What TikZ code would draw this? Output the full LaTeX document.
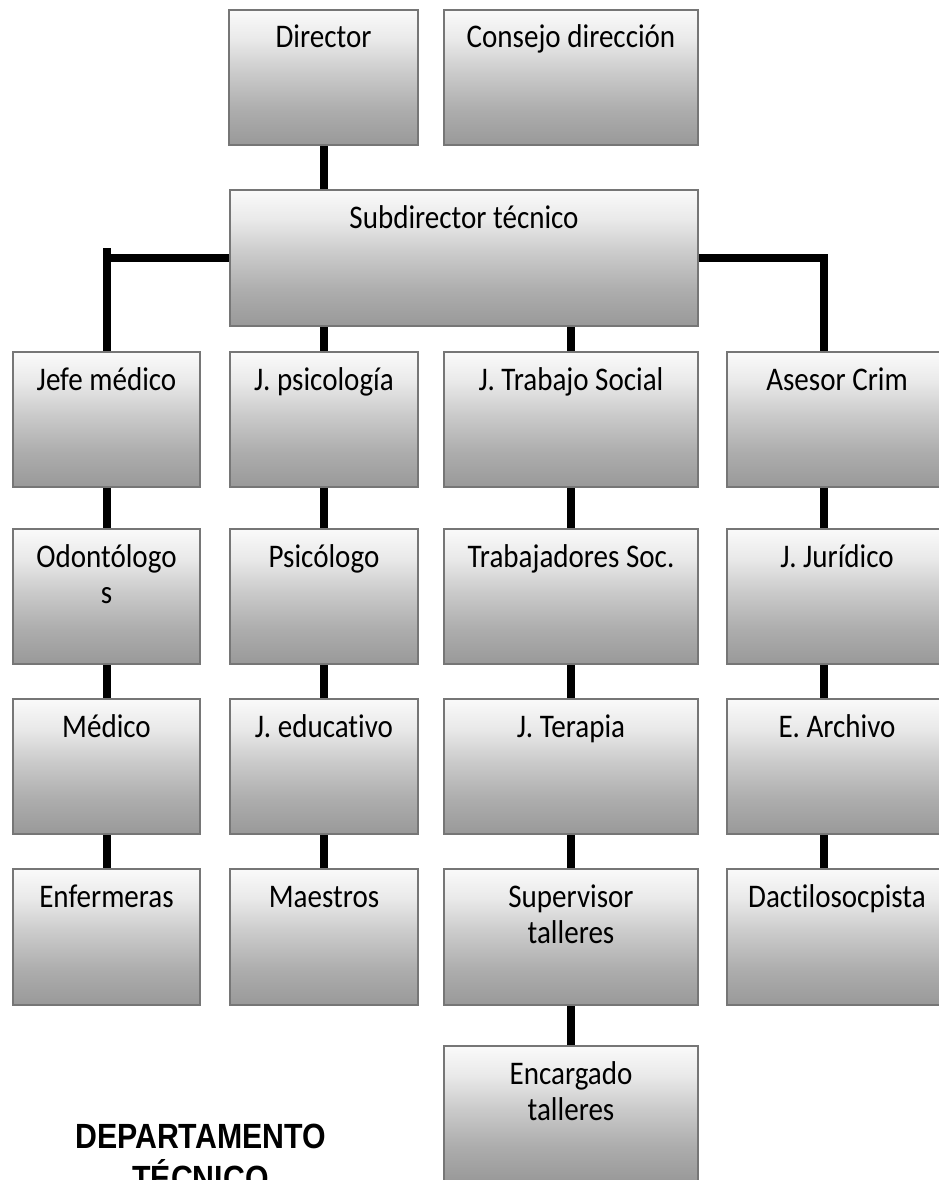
\documentclass[tikz,border=0pt]{standalone}
\usepackage{fontspec}
\setmainfont[FakeStretch=0.88, Ligatures={NoCommon}]{Carlito}
\newfontfamily\titlefont[FakeStretch=0.865]{Liberation Sans}
\usetikzlibrary{calc}

% box fill: light at the top, darker grey at the bottom
\definecolor{shA}{HTML}{999999}
\definecolor{shB}{HTML}{ADADAD}
\definecolor{shC}{HTML}{CBCBCB}
\definecolor{shD}{HTML}{E9E9E9}
\definecolor{shE}{HTML}{FAFAFA}
\definecolor{boxline}{HTML}{767676}
\pgfdeclareverticalshading{boxfade}{100bp}{color(0bp)=(shA); color(25bp)=(shA); color(38bp)=(shB); color(52bp)=(shC); color(64bp)=(shD); color(75bp)=(shE); color(100bp)=(shE)}

\tikzset{
  orgbox/.style={draw=boxline, line width=2pt, shading=boxfade, rectangle,
    inner sep=0pt, anchor=north west,
    font=\fontsize{33pt}{36pt}\selectfont},
  conn/.style={line width=8pt, draw=black, line cap=butt},
  titletext/.style={inner sep=0pt, anchor=base,
    font=\titlefont\bfseries\fontsize{35pt}{42pt}\selectfont}
}

% \orgnode{name}{left}{top}{width}{height}{text}
\newcommand\orgnode[6]{%
  \node[orgbox] (#1) at (#2,#3)
    {\parbox[t][#5pt][t]{#4pt}{\centering\rule{0pt}{38pt}#6}};}

\begin{document}
\begin{tikzpicture}[x=1pt, y=-1pt]
  \fill[white] (0,0) rectangle (938,1180);
  \useasboundingbox (0,0) rectangle (938,1180);

  % top level
  \orgnode{dir}{228}{9}{189}{135}{Director}
  \orgnode{cons}{443}{9}{254}{135}{Consejo dirección}
  \orgnode{sub}{229}{189}{468}{136}{Subdirector técnico}

  % column 1
  \orgnode{jm}{12}{351}{187}{135}{Jefe médico}
  \orgnode{odo}{12}{528}{187}{135}{Odontólogo\\s}
  \orgnode{med}{12}{698}{187}{135}{Médico}
  \orgnode{enf}{12}{868}{187}{136}{Enfermeras}

  % column 2
  \orgnode{jps}{229}{351}{188}{135}{J. psicología}
  \orgnode{psi}{229}{528}{188}{135}{Psicólogo}
  \orgnode{jed}{229}{698}{188}{135}{J. educativo}
  \orgnode{mae}{229}{868}{188}{136}{Maestros}

  % column 3
  \orgnode{jts}{443}{351}{254}{135}{J. Trabajo Social}
  \orgnode{tsoc}{443}{528}{254}{135}{Trabajadores Soc.}
  \orgnode{jter}{443}{698}{254}{135}{J. Terapia}
  \orgnode{sup}{443}{868}{254}{136}{Supervisor\\talleres}
  \orgnode{enc}{443}{1045}{254}{135}{Encargado\\talleres}

  % column 4
  \orgnode{ac}{726}{351}{220}{135}{Asesor Crim}
  \orgnode{jj}{726}{528}{220}{135}{J. Jurídico}
  \orgnode{ea}{726}{698}{220}{135}{E. Archivo}
  \orgnode{dac}{726}{868}{220}{136}{Dactilosocpista}

  % title (its second line runs off the lower edge of the page)
  \node[titletext] (title) at (200.5,1148)
    {\parbox[t]{320pt}{\centering DEPARTAMENTO\\TÉCNICO}};

  % connectors
  \draw[conn] (dir.south) -- (dir.south |- sub.north);

  \coordinate (ltop) at ($(sub.west -| jm.north)+(0,-10)$);
  \draw[conn] (sub.west) -- (sub.west -| jm.north);
  \draw[conn] (ltop) -- (jm.north);

  \coordinate (acin) at ([xshift=98pt]ac.north west);
  \draw[conn] (sub.east) -| (acin);

  \draw[conn] (jps.north |- sub.south) -- (jps.north);
  \draw[conn] (jts.north |- sub.south) -- (jts.north);

  \draw[conn] (jm.south) -- (odo.north);
  \draw[conn] (odo.south) -- (med.north);
  \draw[conn] (med.south) -- (enf.north);

  \draw[conn] (jps.south) -- (psi.north);
  \draw[conn] (psi.south) -- (jed.north);
  \draw[conn] (jed.south) -- (mae.north);

  \draw[conn] (jts.south) -- (tsoc.north);
  \draw[conn] (tsoc.south) -- (jter.north);
  \draw[conn] (jter.south) -- (sup.north);
  \draw[conn] (sup.south) -- (enc.north);

  \draw[conn] ([xshift=98pt]ac.south west) -- ([xshift=98pt]jj.north west);
  \draw[conn] ([xshift=98pt]jj.south west) -- ([xshift=98pt]ea.north west);
  \draw[conn] ([xshift=98pt]ea.south west) -- ([xshift=98pt]dac.north west);
\end{tikzpicture}
\end{document}
